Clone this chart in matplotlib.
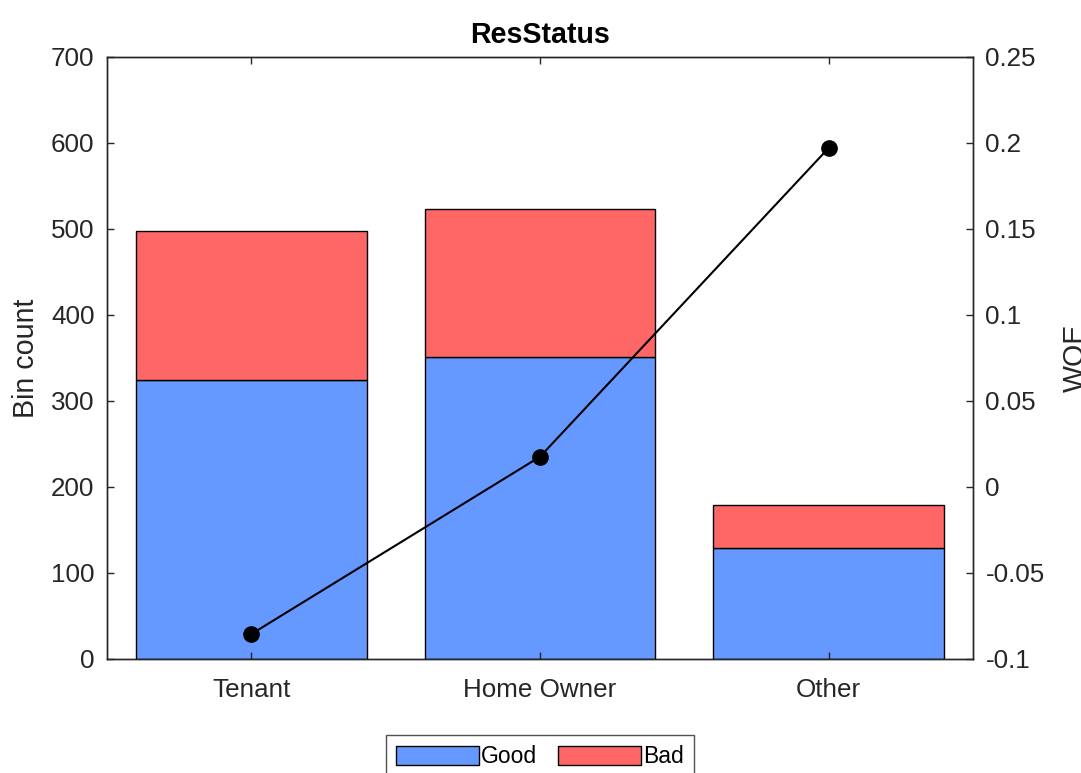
import matplotlib
matplotlib.use("Agg")
import matplotlib.pyplot as plt
import numpy as np

categories = ["Tenant", "Home Owner", "Other"]
good = [324, 351, 129]
bad = [174, 172, 50]
woe = [-0.0855, 0.0176, 0.1971]
left_ticks = [0, 100, 200, 300, 400, 500, 600, 700]
right_ticks = [-0.1, -0.05, 0, 0.05, 0.1, 0.15, 0.2, 0.25]
right_ticklabels = ["-0.1", "-0.05", "0", "0.05", "0.1", "0.15", "0.2", "0.25"]

plt.rcParams['font.family'] = ['Liberation Sans', 'DejaVu Sans']
axc = (0.15, 0.15, 0.15)
tick_fs = 18.7
lab_fs = 20.6

fig = plt.figure(figsize=(10.81, 7.73), dpi=100)
ax = fig.add_axes([107/1081, 1-659/773, (973-107)/1081, (659-57)/773])

x = np.arange(1, len(categories) + 1)
blue = (0.4, 0.6, 1.0)
red = (1.0, 0.4, 0.4)
b1 = ax.bar(x, good, width=0.8, color=blue, edgecolor='black', linewidth=1.0, label='Good')
b2 = ax.bar(x, bad, width=0.8, bottom=good, color=red, edgecolor='black', linewidth=1.0, label='Bad')

ax.set_xlim(0.5, 3.5)
ax.set_ylim(0, 700)
ax.set_xticks(x)
ax.set_xticklabels(categories)
ax.set_yticks(left_ticks)
ax.tick_params(axis='both', direction='in', length=5, width=1.0, colors=axc,
               labelsize=tick_fs, pad=9)
ax.tick_params(axis='x', top=True, labeltop=False, pad=14)
ax.set_ylabel("Bin count", fontsize=lab_fs, color=axc, labelpad=8)
ax.set_title("ResStatus", fontsize=lab_fs, fontweight='bold', color='black', pad=10)
for s in ax.spines.values():
    s.set_color(axc)
    s.set_linewidth(1.0)

ax2 = ax.twinx()
ax2.plot(x, woe, color='black', linewidth=1.5, marker='o', markersize=11,
         markerfacecolor='black', markeredgecolor='black')
ax2.set_ylim(-0.1, 0.25)
ax2.set_yticks(right_ticks)
ax2.set_yticklabels(right_ticklabels)
ax2.tick_params(axis='y', direction='in', length=5, width=1.0, colors=axc,
                labelsize=tick_fs, pad=9)
for s in ax2.spines.values():
    s.set_color(axc)
    s.set_linewidth(1.0)
fig.text(1076/1081, 1-358/773, "WOE", rotation=90, ha='center', va='center',
         fontsize=lab_fs, color=axc)

leg = fig.legend(handles=[b1, b2], labels=['Good', 'Bad'], loc='upper center',
                 bbox_to_anchor=(540/1081, 1-735/773), ncol=2, fontsize=16.5,
                 frameon=True, fancybox=False, handlelength=3.6, handleheight=0.85,
                 handletextpad=0.1, columnspacing=0.9, borderpad=0.45, borderaxespad=0)
leg.get_frame().set_edgecolor(axc)
leg.get_frame().set_linewidth(1.0)

fig.savefig("out.png", dpi=100)
